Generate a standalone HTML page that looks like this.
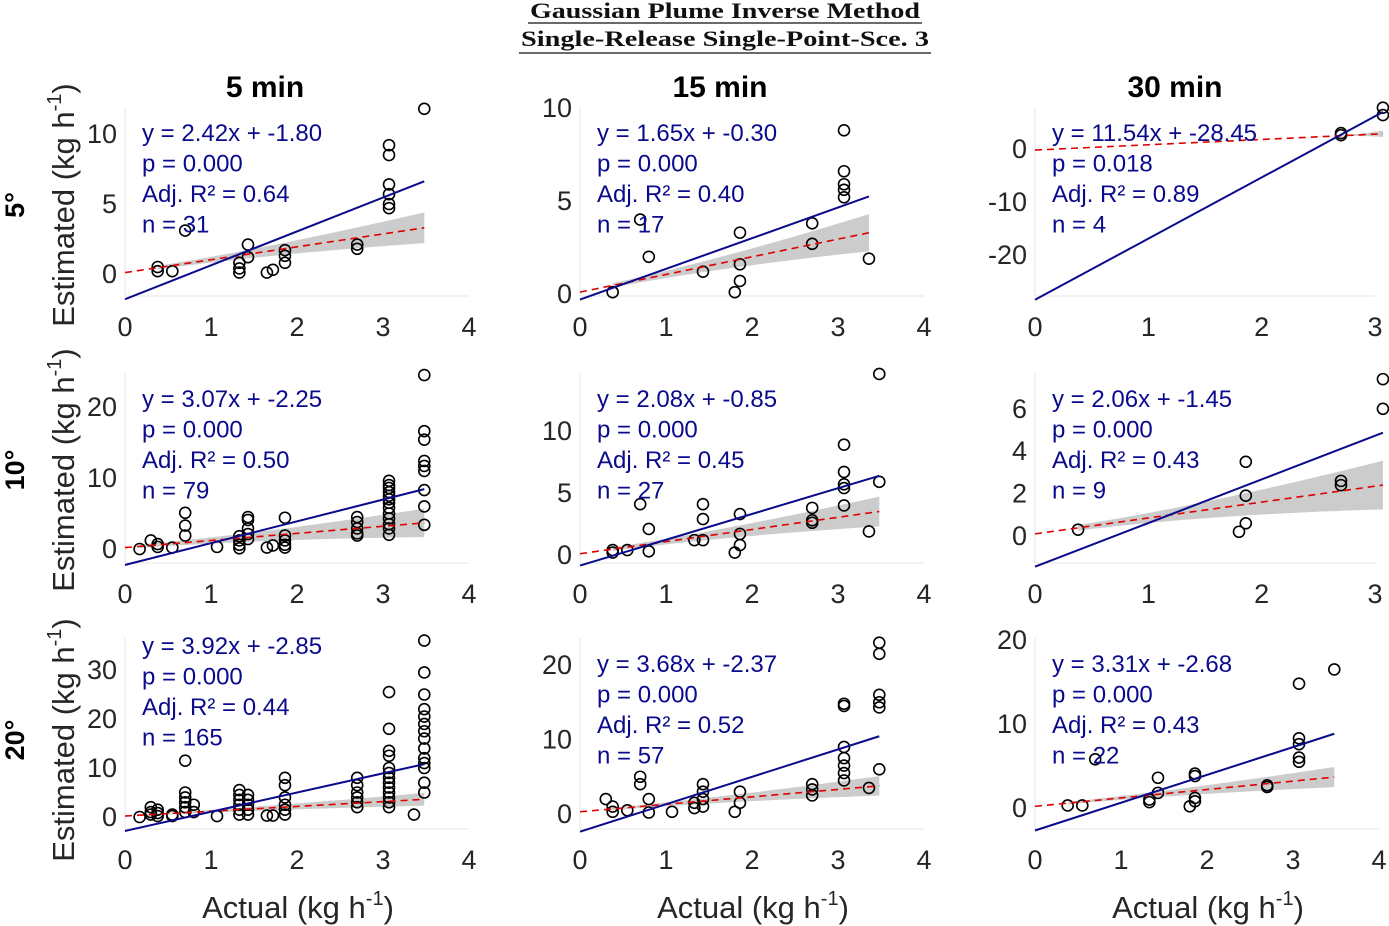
<!DOCTYPE html>
<html><head><meta charset="utf-8">
<style>
html,body{margin:0;padding:0;background:#fff;}
svg{display:block;font-family:"Liberation Sans",sans-serif;}
</style></head>
<body>
<svg id="chart" width="1389" height="926" viewBox="0 0 1389 926">
<g font-family="Liberation Serif,serif" font-weight="bold" font-size="22" text-anchor="middle" fill="#111">
<text x="725" y="18" textLength="390" lengthAdjust="spacingAndGlyphs">Gaussian Plume Inverse Method</text>
<line x1="528" y1="23" x2="922" y2="23" stroke="#111" stroke-width="1.2"/>
<text x="725" y="46" textLength="408" lengthAdjust="spacingAndGlyphs">Single-Release Single-Point-Sce. 3</text>
<line x1="519" y1="53" x2="931" y2="53" stroke="#111" stroke-width="1.2"/>
</g>
</svg>
<script>
// ---- data ----
const p11x=[0.38,0.38,0.55,0.7,1.33,1.33,1.33,1.43,1.43,1.65,1.72,1.86,1.86,1.86,2.7,2.7,3.07,3.07,3.07,3.07,3.07,3.07,3.48];
const p11y=[0.5,0.2,0.2,3.1,0.8,0.4,0.1,2.1,1.2,0.1,0.3,1.7,1.3,0.8,2.1,1.8,9.2,8.5,6.4,5.7,5.0,4.7,11.8];
const p12x=[0.38,0.7,0.8,1.43,1.86,1.86,1.86,1.8,2.7,2.7,3.07,3.07,3.07,3.07,3.07,3.36];
const p12y=[0.1,4.0,2.0,1.2,3.3,1.6,0.7,0.1,3.8,2.7,8.8,6.6,5.9,5.6,5.2,1.9];
const p13x=[2.7,2.7,3.07,3.07];
const p13y=[3.0,2.6,7.8,6.4];
const p21x=[0.17,0.3,0.38,0.38,0.55,0.7,0.7,0.7,1.07,1.33,1.33,1.33,1.33,1.43,1.43,1.43,1.43,1.43,1.65,1.72,1.86,1.86,1.86,1.86,1.86,2.7,2.7,2.7,2.7,2.7,3.07,3.07,3.07,3.07,3.07,3.07,3.07,3.07,3.07,3.07,3.07,3.07,3.07,3.48,3.48,3.48,3.48,3.48,3.48,3.48,3.48,3.48];
const p21y=[0,1.2,0.7,0.3,0.2,5.1,3.3,1.9,0.3,1.8,1.2,0.6,0.1,4.5,4.1,2.9,2.1,1.4,0.2,0.5,4.4,1.9,1.2,0.6,0.2,4.5,3.8,2.9,2.2,1.9,9.6,9.0,8.6,8.0,7.5,7.0,6.5,5.8,5.0,4.3,3.5,2.9,2.0,24.5,16.6,15.4,12.4,11.7,11.0,8.3,6.0,3.4];
const p22x=[0.38,0.38,0.55,0.7,0.8,0.8,1.33,1.43,1.43,1.43,1.86,1.86,1.86,1.8,2.7,2.7,2.7,3.07,3.07,3.07,3.07,3.07,3.36,3.48,3.48];
const p22y=[0.2,0.4,0.4,4.1,2.1,0.3,1.2,4.1,2.9,1.2,3.3,1.7,0.8,0.2,3.8,2.8,2.6,8.9,6.7,5.7,5.4,4.0,1.9,14.6,5.9];
const p23x=[0.38,1.86,1.86,1.8,1.86,2.7,2.7,3.07,3.07];
const p23y=[0.3,1.9,3.5,0.2,0.6,2.6,2.4,7.4,6.0];
const p31x=[0.17,0.3,0.3,0.3,0.38,0.38,0.38,0.55,0.55,0.7,0.7,0.7,0.7,0.7,0.7,0.8,0.8,1.07,1.33,1.33,1.33,1.33,1.33,1.33,1.43,1.43,1.43,1.43,1.43,1.65,1.72,1.86,1.86,1.86,1.86,1.86,1.86,2.7,2.7,2.7,2.7,2.7,2.7,3.07,3.07,3.07,3.07,3.07,3.07,3.07,3.07,3.07,3.07,3.07,3.07,3.07,3.36,3.48,3.48,3.48,3.48,3.48,3.48,3.48,3.48,3.48,3.48,3.48,3.48,3.48,3.48];
const p31y=[0,2,1,0.5,1.5,0.8,0.2,0.5,0.2,11.5,5,4,3,2,1,2.5,1,0.2,5.5,4.5,3.5,2.5,1.5,0.5,4.5,3.5,2.5,1.5,0.5,0.3,0.3,8,6.5,4,2.5,1.5,0.5,8,6.5,5,4,3,2,25.5,18,13.5,12.5,10,9,8,7,6,5,4,3,2,0.5,36,29.5,25,22,20.5,19,17.5,16,14,12,11,10,7,5];
const p32x=[0.3,0.38,0.38,0.55,0.7,0.7,0.8,0.8,1.07,1.33,1.33,1.43,1.43,1.43,1.43,1.86,1.86,1.8,2.7,2.7,2.7,3.07,3.07,3.07,3.07,3.07,3.07,3.07,3.36,3.48,3.48,3.48,3.48,3.48,3.48];
const p32y=[2,1,0.3,0.5,5,4,2,0.2,0.3,1.5,0.8,4,3,2,1,3,1.5,0.3,4,3.3,2.5,14.5,14.8,9,7.5,6.5,5.5,4.5,3.5,23,21.5,16,15,14.3,6];
const p33x=[0.38,0.55,0.7,1.33,1.33,1.43,1.43,1.86,1.86,1.8,1.86,1.86,2.7,2.7,3.07,3.07,3.07,3.07,3.07,3.48];
const p33y=[0.3,0.3,5.8,1.0,0.7,3.6,1.8,4.1,3.8,0.2,0.8,1.2,2.7,2.5,14.8,8.3,7.6,6.0,5.5,16.5];
const blueSlope=[2.42,1.65,11.54,3.07,2.08,2.06,3.92,3.68,3.31];
const blueInt=[-1.80,-0.30,-28.45,-2.25,-0.85,-1.45,-2.85,-2.37,-2.68];
const redSlope=[0.92,0.95,1.0,1.0,0.98,0.75,0.98,1.0,1.0];
const redInt=[0.1,0.1,-0.2,0.2,0.1,0.1,0.2,0.3,0.2];
const bandEnd=[1.1,1.0,0.6,2.0,1.2,1.15,1.3,1.3,1.2];
const pVals=["0.000","0.000","0.018","0.000","0.000","0.000","0.000","0.000","0.000"];
const r2Vals=["0.64","0.40","0.89","0.50","0.45","0.43","0.44","0.52","0.43"];
const nVals=["31","17","4","79","27","9","165","57","22"];
const yTicks=[[0,5,10],[0,5,10],[-20,-10,0],[0,10,20],[0,5,10],[0,2,4,6],[0,10,20,30],[0,10,20],[0,10,20]];
const xTicks=[[0,1,2,3,4],[0,1,2,3,4],[0,1,2,3],[0,1,2,3,4],[0,1,2,3,4],[0,1,2,3],[0,1,2,3,4],[0,1,2,3,4],[0,1,2,3,4]];
const colTitles=["5 min","15 min","30 min"];
const rowTitles=["5°","10°","20°"];
const allX=[p11x,p12x,p13x,p21x,p22x,p23x,p31x,p32x,p33x];
const allY=[p11y,p12y,p13y,p21y,p22y,p23y,p31y,p32y,p33y];
// ---- layout ----
const colX0=[125,580,1035];
const rowTop=[108,373,638], rowBot=[296,563,829];
const xRange=[4,4,3,4,4,3,4,4,4];
const yZeroPx=[274,294,149,549,555,536,817,814,808];
const yPxPerUnit=[14,18.6,5.3,7.1,12.4,21.2,4.9,7.45,8.4];
const statTop=[133,133,133,399,399,399,646,664,664];
const NS="http://www.w3.org/2000/svg";
const svg=document.getElementById('chart');
function mk(tag,attrs,parent){const e=document.createElementNS(NS,tag);for(const k in attrs)e.setAttribute(k,attrs[k]);(parent||svg).appendChild(e);return e;}
for(let c=0;c<3;c++){
  const t=mk('text',{x:colX0[c]+140,y:97,'font-size':30,'font-weight':'bold','text-anchor':'middle',fill:'#000'});
  t.textContent=colTitles[c];
  
  
  const xl=mk('text',{x:colX0[c]+173,y:918,'font-size':31,'text-anchor':'middle',fill:'#262626'});
  xl.innerHTML='Actual (kg h<tspan dy="-13" font-size="20">-1</tspan><tspan dy="13">)</tspan>';
  
  
}
for(let r=0;r<3;r++){
  const cy=[205,470,740][r];
  const rt=mk('text',{x:0,y:0,'font-size':27,'font-weight':'bold','text-anchor':'middle',fill:'#000',transform:`translate(24,${cy}) rotate(-90)`});
  rt.textContent=rowTitles[r];
  
  
  const yl=mk('text',{x:0,y:0,'font-size':31,'text-anchor':'middle',fill:'#262626',transform:`translate(74,${cy}) rotate(-90)`});
  yl.innerHTML='Estimated (kg h<tspan dy="-13" font-size="20">-1</tspan><tspan dy="13">)</tspan>';
  
  
}
for(let i=0;i<9;i++){
  const r=Math.floor(i/3),c=i%3;
  const x0=colX0[c], xw=(c===2&&r<2)?340:344;
  const sx=v=>x0+v*xw/xRange[i];
  const sy=v=>yZeroPx[i]-v*yPxPerUnit[i];
  const g=mk('g',{});
  
  
  const top=rowTop[r],bot=rowBot[r];
  mk('line',{x1:x0,y1:top,x2:x0,y2:bot,stroke:'#e4e4e4','stroke-width':1},g);
  mk('line',{x1:x0,y1:bot,x2:sx(xRange[i]),y2:bot,stroke:'#e4e4e4','stroke-width':1},g);
  xTicks[i].forEach(v=>{
    const t=mk('text',{x:sx(v),y:bot+40,'font-size':27,'text-anchor':'middle',fill:'#262626'},g);
    t.textContent=v;
    
    
  });
  yTicks[i].forEach(v=>{
    const t=mk('text',{x:x0-8,y:sy(v)+9,'font-size':27,'text-anchor':'end',fill:'#262626'},g);
    t.textContent=v;
    
    
  });
  const xs=allX[i],ys=allY[i];
  const xmin=Math.min(...xs),xmax=Math.max(...xs);
  const span=Math.max(xmax-xmin,0.01);
  const hw=x=>bandEnd[i]*(0.12+0.88*Math.pow((x-xmin)/span,1.6));
  const red=x=>redSlope[i]*x+redInt[i];
  let up=[],lo=[];
  for(let k=0;k<=40;k++){const x=xmin+span*k/40;up.push(sx(x)+','+sy(red(x)+hw(x)));lo.unshift(sx(x)+','+sy(red(x)-hw(x)));}
  const band=mk('polygon',{points:up.concat(lo).join(' '),fill:'#cccccc'},g);
  
  
  xs.forEach((x,k)=>{
    const p=mk('circle',{cx:sx(x),cy:sy(ys[k]),r:5.5,fill:'none',stroke:'#000','stroke-width':1.6},g);
    
    
  });
  const rl=mk('line',{x1:sx(0),y1:sy(red(0)),x2:sx(xmax),y2:sy(red(xmax)),stroke:'#e00000','stroke-width':1.6,'stroke-dasharray':'7,5'},g);
  
  
  const bl=mk('line',{x1:sx(0),y1:sy(blueInt[i]),x2:sx(xmax),y2:sy(blueSlope[i]*xmax+blueInt[i]),stroke:'#0a0a8c','stroke-width':2},g);
  
  
  const lines=[`y = ${blueSlope[i].toFixed(2)}x + ${blueInt[i].toFixed(2)}`,`p = ${pVals[i]}`,`Adj. R² = ${r2Vals[i]}`,`n = ${nVals[i]}`];
  lines.forEach((s,k)=>{
    const t=mk('text',{x:x0+17,y:statTop[i]+8+k*30.5,'font-size':24,fill:'#0a0a8c'},g);
    t.textContent=s;
    
    
  });
}
</script>
</body></html>
